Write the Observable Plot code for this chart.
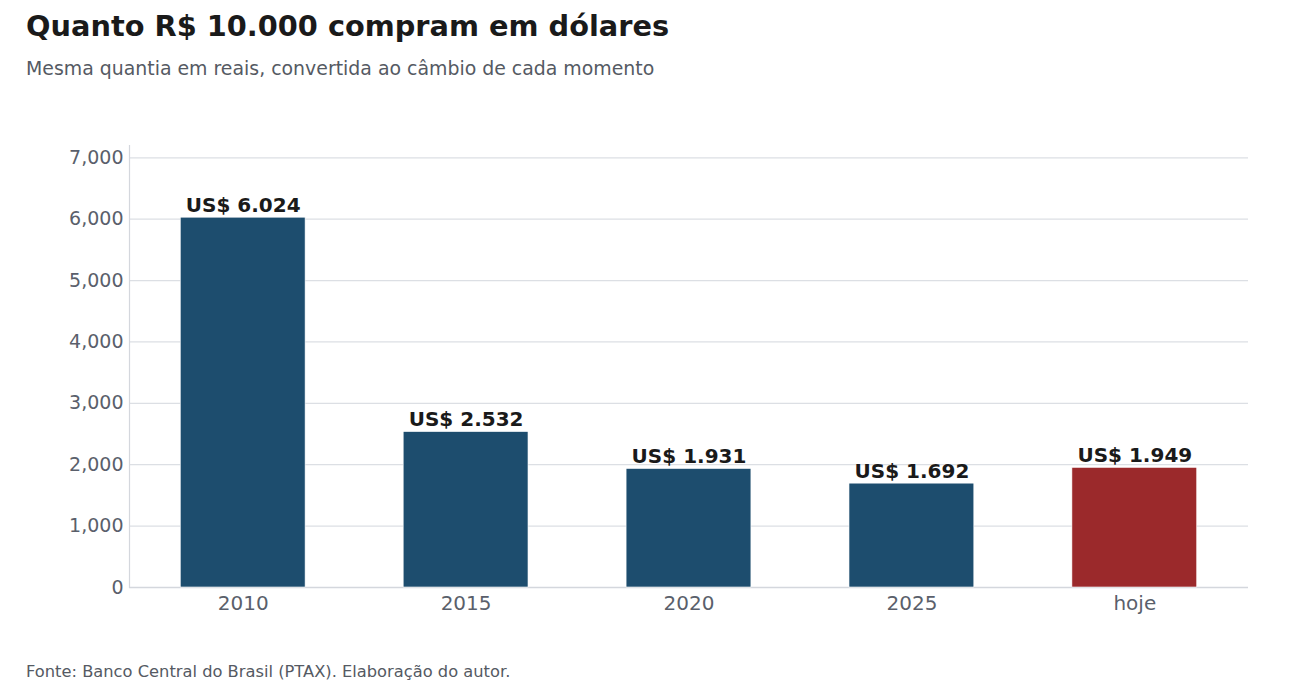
<!DOCTYPE html>
<html>
<head>
<meta charset="utf-8">
<script src="https://cdn.jsdelivr.net/npm/d3@7"></script>
<script src="https://cdn.jsdelivr.net/npm/@observablehq/plot@0.6"></script>
<style>
  html, body { margin: 0; padding: 0; background: #fff; }
  body { font-family: "DejaVu Sans", sans-serif; }
  #wrap { position: relative; width: 1300px; height: 691px; overflow: hidden; }
  .title { position: absolute; left: 26px; top: 11.5px; font-size: 28.8px; line-height: 1; font-weight: bold; color: #1a1a1a; white-space: nowrap; }
  .subtitle { position: absolute; left: 26px; top: 59px; font-size: 18.9px; line-height: 1; color: #555a63; white-space: nowrap; }
  .caption { position: absolute; left: 26px; top: 664px; font-size: 16.3px; line-height: 1; color: #555a63; white-space: nowrap; }
  #chart { position: absolute; left: 0; top: 110px; }
</style>
</head>
<body>
<div id="wrap">
  <div class="title">Quanto R$ 10.000 compram em dólares</div>
  <div class="subtitle">Mesma quantia em reais, convertida ao câmbio de cada momento</div>
  <div id="chart"></div>
  <div class="caption">Fonte: Banco Central do Brasil (PTAX). Elaboração do autor.</div>
</div>
<script>
const periods = ["2010", "2015", "2020", "2025", "hoje"];
const dollars = [6024, 2532, 1931, 1692, 1949];
const labels = ["US$ 6.024", "US$ 2.532", "US$ 1.931", "US$ 1.692", "US$ 1.949"];
const yTicks = [0, 1000, 2000, 3000, 4000, 5000, 6000, 7000];
const highlight = "hoje";

const data = periods.map((p, i) => ({period: p, value: dollars[i], label: labels[i]}));

const chart = Plot.plot({
  width: 1300,
  height: 530,
  marginTop: 35,
  marginBottom: 53,
  marginLeft: 129,
  marginRight: 52,
  style: {fontFamily: "DejaVu Sans, sans-serif", fontSize: "19px", color: "#5a5f6b", background: "#fff"},
  x: {domain: periods, paddingInner: 0.44, paddingOuter: 0.23, round: false, label: null},
  y: {domain: [0, 7200], label: null},
  marks: [
    Plot.gridY(yTicks, {stroke: "#dcdfe4", strokeOpacity: 1, strokeWidth: 1.2}),
    Plot.frame({anchor: "left", stroke: "#d4d7dd", strokeWidth: 1.2}),
    Plot.ruleY([0], {stroke: "#d4d7dd", strokeWidth: 1.5}),
    Plot.barY(data, {x: "period", y: "value", fill: d => d.period === highlight ? "#9b292b" : "#1d4d6e", stroke: "#fff", strokeWidth: 0.6}),
    Plot.text(data, {x: "period", y: "value", text: "label", lineAnchor: "bottom", dy: -6, fontWeight: "bold", fontSize: 20, fill: "#1a1a1a"}),
    Plot.axisY({ticks: yTicks, tickSize: 0, tickPadding: 6, fontSize: 19, fill: "#5a5f6b", label: null}),
    Plot.axisX({tickSize: 0, tickPadding: 8, fontSize: 20, fill: "#5a5f6b", label: null})
  ]
});
document.getElementById("chart").appendChild(chart);
</script>
</body>
</html>
